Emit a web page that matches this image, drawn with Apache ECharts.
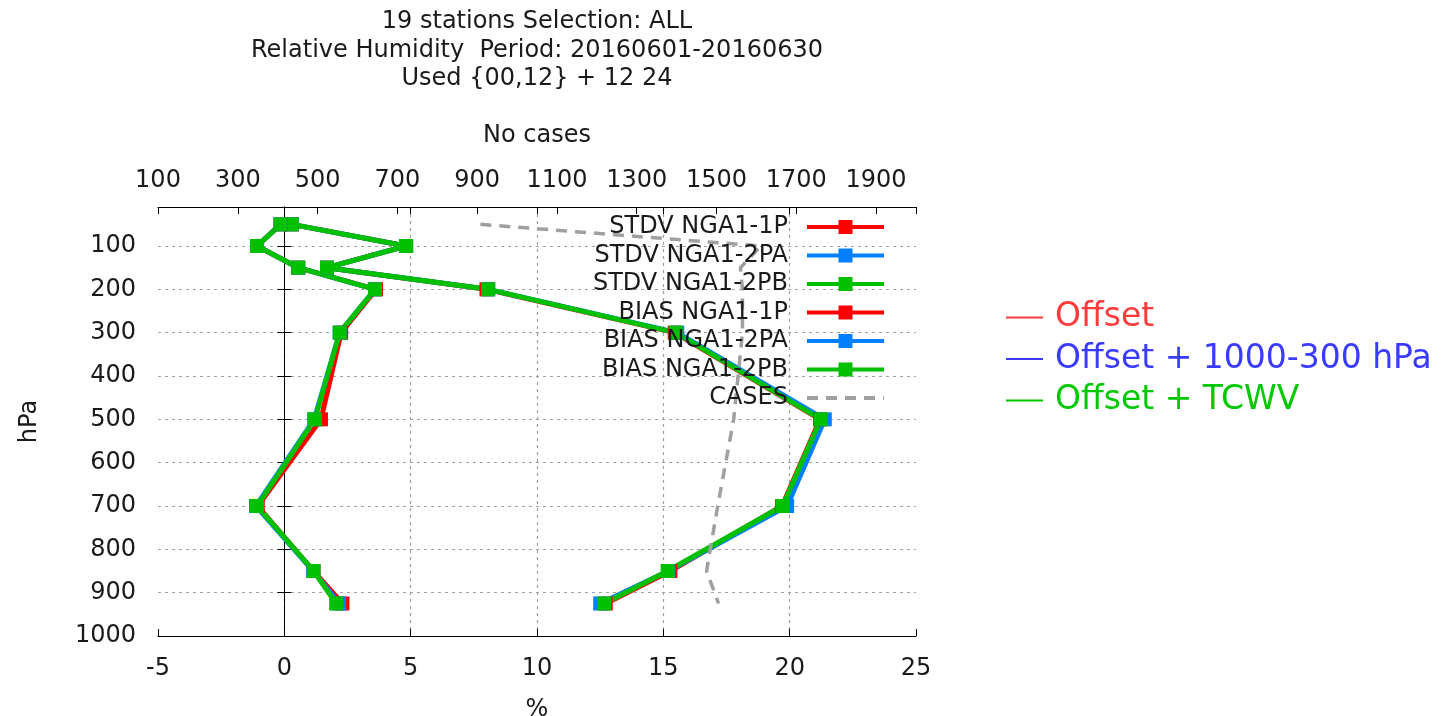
<!DOCTYPE html>
<html>
<head>
<meta charset="utf-8">
<script src="https://cdn.jsdelivr.net/npm/echarts@6/dist/echarts.min.js"></script>
<style>html,body{margin:0;padding:0;background:#fff}#c{width:1444px;height:716px}</style>
</head>
<body>
<div id="c"></div>
<script>
// ---- data ----
const levels = [50, 100, 150, 200, 300, 500, 700, 850, 925];
const stdv1P  = [0.30, 4.82, 1.69, 8.00, 15.45, 21.20, 19.70, 15.28, 12.72];
const stdv2PA = [0.30, 4.82, 1.69, 8.07, 15.55, 21.39, 19.90, 15.20, 12.50];
const stdv2PB = [0.30, 4.82, 1.69, 8.07, 15.49, 21.23, 19.72, 15.17, 12.66];
const bias1P  = [-0.15, -1.08, 0.55, 3.63, 2.25, 1.45, -1.05, 1.15, 2.30];
const bias2PA = [-0.15, -1.08, 0.55, 3.59, 2.19, 1.18, -1.12, 1.14, 2.17];
const bias2PB = [-0.15, -1.08, 0.55, 3.59, 2.19, 1.21, -1.08, 1.16, 2.05];
const cases   = [908, 1611, 1560, 1565, 1565, 1543, 1503, 1475, 1505];
const pressureTicks = [100, 200, 300, 400, 500, 600, 700, 800, 900, 1000];
const titleLines = ['19 stations Selection: ALL', 'Relative Humidity  Period: 20160601-20160630', 'Used {00,12} + 12 24'];
const seriesNames = ['STDV NGA1-1P', 'STDV NGA1-2PA', 'STDV NGA1-2PB', 'BIAS NGA1-1P', 'BIAS NGA1-2PA', 'BIAS NGA1-2PB', 'CASES'];
const noteNames = ['Offset', 'Offset + 1000-300 hPa', 'Offset + TCWV'];

const FONT = 'DejaVu Sans';
const TXT = '#1a1a1a';
const RED = '#ff0000', BLUE = '#0080ff', GREEN = '#00c000';
const pts = arr => arr.map((v, i) => [v, levels[i]]);
const plain = v => String(v);

function profile(name, arr, color) {
  return {
    name, type: 'line', xAxisIndex: 0, yAxisIndex: 0, data: pts(arr),
    symbol: 'rect', symbolSize: 14, color,
    lineStyle: { width: 5, color }, itemStyle: { color },
    emphasis: { disabled: true }, animation: false
  };
}
const gridDash = { color: '#a0a0a0', width: 1.2, type: [3, 4] };
const chart = echarts.init(document.getElementById('c'), null, { renderer: 'canvas' });
chart.setOption({
  backgroundColor: '#fff',
  animation: false,
  title: {
    text: titleLines.join('\n'), left: 537, top: 8, textAlign: 'center', padding: 0,
    textStyle: { fontFamily: FONT, fontSize: 24, fontWeight: 'normal', color: TXT, lineHeight: 28.5 }
  },
  grid: { left: 158, right: 1444 - 916, top: 207, bottom: 716 - 636, containLabel: false, outerBoundsMode: 'none' },
  xAxis: [
    { type: 'value', position: 'bottom', min: -5, max: 25, interval: 5,
      name: '%', nameLocation: 'middle', nameGap: 62,
      nameTextStyle: { fontFamily: FONT, fontSize: 24, color: TXT },
      axisLine: { show: true, lineStyle: { color: '#000', width: 1 } },
      axisTick: { show: true, inside: true, length: 7, lineStyle: { color: '#000' } },
      axisLabel: { fontFamily: FONT, fontSize: 24, color: TXT, margin: 21, formatter: plain },
      splitLine: { show: true, showMinLine: false, showMaxLine: false, lineStyle: gridDash } },
    { type: 'value', position: 'top', min: 100, max: 2000, interval: 200,
      name: 'No cases', nameLocation: 'middle', nameGap: 59,
      nameTextStyle: { fontFamily: FONT, fontSize: 24, color: TXT },
      axisLine: { show: true, lineStyle: { color: '#000', width: 1 } },
      axisTick: { show: true, inside: true, length: 7, lineStyle: { color: '#000' } },
      axisLabel: { fontFamily: FONT, fontSize: 24, color: TXT, margin: 14, showMaxLabel: false, formatter: plain },
      splitLine: { show: false } },
    { type: 'value', position: 'top', min: -5, max: 25, interval: 5,
      axisLine: { show: false },
      axisTick: { show: true, inside: true, length: 7, lineStyle: { color: '#000' } },
      axisLabel: { show: false }, splitLine: { show: false } }
  ],
  yAxis: [
    { type: 'value', position: 'left', inverse: true, min: 10, max: 1000,
      name: 'hPa', nameLocation: 'middle', nameGap: 116, nameRotate: 90,
      nameTextStyle: { fontFamily: FONT, fontSize: 24, color: TXT },
      axisLine: { show: true, lineStyle: { color: '#000', width: 1 } },
      axisTick: { show: true, inside: true, length: 7, customValues: pressureTicks, lineStyle: { color: '#000' } },
      axisLabel: { fontFamily: FONT, fontSize: 24, color: TXT, margin: 22, customValues: pressureTicks, formatter: plain },
      splitLine: { show: true, showMaxLine: false, lineStyle: gridDash } },
    { type: 'value', position: 'right', inverse: true, min: 10, max: 1000,
      axisLine: { show: true, lineStyle: { color: '#000', width: 1 } },
      axisTick: { show: true, inside: true, length: 7, customValues: pressureTicks, lineStyle: { color: '#000' } },
      axisLabel: { show: false }, splitLine: { show: false } }
  ],
  legend: [
    { data: seriesNames.map(n => n === 'CASES' ? { name: n, itemStyle: { opacity: 0 } } : n),
      orient: 'vertical', align: 'right', right: 1444 - 886, top: 213, padding: 0,
      itemWidth: 77, itemHeight: 17.5, itemGap: 0.5, selectedMode: false,
      lineStyle: { width: 4 },
      textStyle: { fontFamily: FONT, fontSize: 24, color: TXT, lineHeight: 28, padding: [0, 14, 0, 0] } },
    { data: noteNames.map((n, i) => ({ name: n, textStyle: { color: ['#ff3b3b', '#3b3bff', '#00c800'][i] } })),
      orient: 'vertical', align: 'left', left: 1006, top: 298, padding: 0, icon: 'rect',
      itemWidth: 37, itemHeight: 2, itemGap: 2.5, selectedMode: false,
      textStyle: { fontFamily: FONT, fontSize: 33, lineHeight: 39, padding: [0, 0, 0, 7] } }
  ],
  series: [
    profile(seriesNames[0], stdv1P, RED),
    profile(seriesNames[1], stdv2PA, BLUE),
    profile(seriesNames[2], stdv2PB, GREEN),
    profile(seriesNames[3], bias1P, RED),
    profile(seriesNames[4], bias2PA, BLUE),
    profile(seriesNames[5], bias2PB, GREEN),
    { name: seriesNames[6], type: 'line', xAxisIndex: 1, yAxisIndex: 0,
      data: cases.map((v, i) => [v, levels[i]]), symbol: 'none', color: '#a0a0a0',
      lineStyle: { width: 3.5, color: '#a0a0a0', type: [11, 8] }, emphasis: { disabled: true } },
    { name: noteNames[0], type: 'line', data: [], color: '#ff3b3b', symbol: 'none' },
    { name: noteNames[1], type: 'line', data: [], color: '#3b3bff', symbol: 'none' },
    { name: noteNames[2], type: 'line', data: [], color: '#00c800', symbol: 'none' }
  ]
});
</script>
</body>
</html>
